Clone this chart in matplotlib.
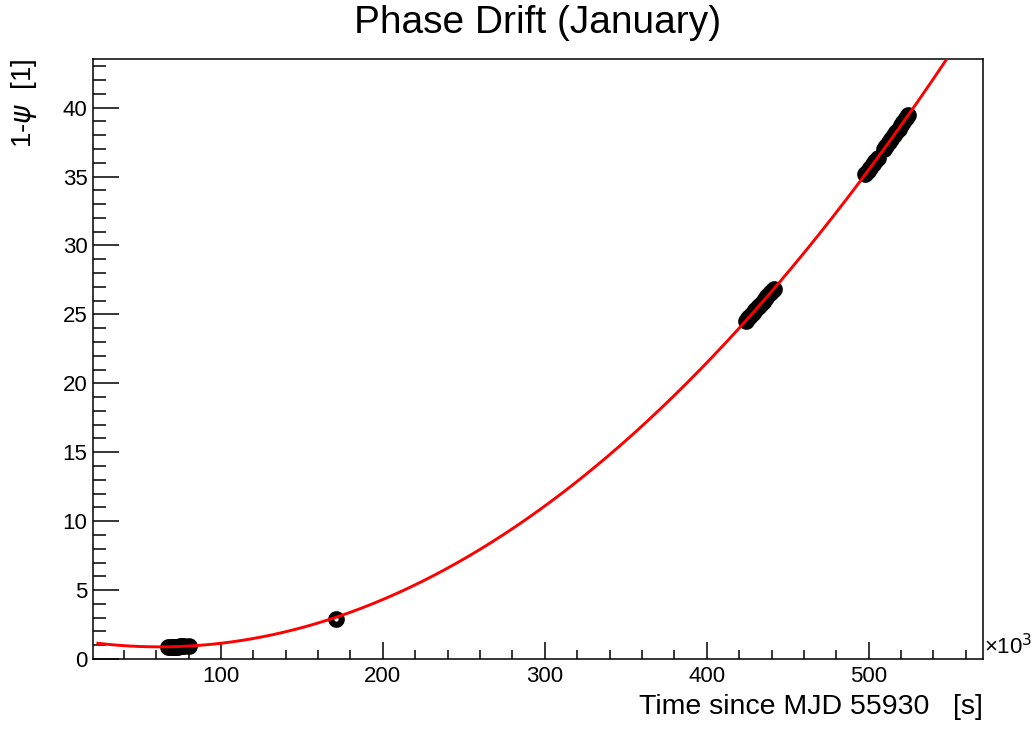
import numpy as np
import matplotlib
matplotlib.use("Agg")
from matplotlib import pyplot as plt
from matplotlib.ticker import MultipleLocator

plt.rcParams['font.family'] = ['Liberation Sans', 'DejaVu Sans']
plt.rcParams['mathtext.fontset'] = 'dejavusans'

# measured phase drift, time in units of 10^3 s
time_jan = [67.5, 68.5, 69.5, 70.5, 71.5, 72.5, 73.5, 74.5, 76.0, 77.0, 80.5,
            171.0,
            424.0, 425.5, 427.0, 428.5, 430.0, 431.5, 433.0, 434.5, 436.0,
            437.5, 439.0, 440.5, 441.5,
            498.0, 499.5, 501.0, 502.5, 504.0, 505.5,
            509.5, 511.0, 512.5, 514.0, 515.5, 517.0, 518.5, 520.0, 521.5,
            523.0, 524.5]
drift_jan = [0.89, 0.89, 0.89, 0.89, 0.90, 0.90, 0.90, 0.91, 0.91, 0.92, 0.93,
             2.92,
             24.52, 24.71, 24.91, 25.11, 25.31, 25.51, 25.71, 25.91, 26.11,
             26.31, 26.52, 26.72, 26.86,
             35.17, 35.41, 35.65, 35.89, 36.12, 36.36,
             37.01, 37.25, 37.49, 37.74, 37.98, 38.23, 38.47, 38.72, 38.96,
             39.22, 39.47]

# pol2 fit: p0 + p1*t + p2*t^2
fit_params = [1.574, -0.02237, 1.804e-4]
fit_range = (24.0, 570.0)

x_range = (21.0, 570.6)
y_range = (0.0, 43.53)


def main():
  fig = plt.figure(figsize=(10.35, 7.29), dpi=100)
  ax = fig.add_axes([93/1035, 1 - 659/729, 890/1035, 600/729])

  ax.plot(time_jan, drift_jan, linestyle='none', marker='o', markersize=7.6,
          markerfacecolor='none', markeredgecolor='black', markeredgewidth=4.4,
          zorder=2)

  tt = np.linspace(fit_range[0], fit_range[1], 600)
  ax.plot(tt, np.polyval(fit_params[::-1], tt), color='red', lw=2.1, zorder=3)

  ax.set_xlim(*x_range)
  ax.set_ylim(*y_range)

  ax.xaxis.set_major_locator(MultipleLocator(100))
  ax.xaxis.set_minor_locator(MultipleLocator(20))
  ax.yaxis.set_major_locator(MultipleLocator(5))
  ax.yaxis.set_minor_locator(MultipleLocator(1))
  ax.tick_params(axis='both', which='both', direction='in', width=1.1,
                 labelsize=16, top=False, right=False)
  ax.tick_params(axis='x', which='major', length=12.5, pad=5)
  ax.tick_params(axis='x', which='minor', length=6.5)
  ax.tick_params(axis='y', which='major', length=19, pad=4)
  ax.tick_params(axis='y', which='minor', length=9.5)
  for s in ax.spines.values():
    s.set_linewidth(1.1)

  ax.set_title("Phase Drift (January)", fontsize=28, pad=19)
  ax.set_xlabel("Time since MJD 55930   [s]", fontsize=20.5, loc='right',
                labelpad=5)
  ax.set_ylabel(r"1-$\psi$  [1]", fontsize=20, loc='top', labelpad=17)

  # axis multiplier, ROOT style
  ax.text(1.001, 0.0, "×10$^{3}$", transform=ax.transAxes,
          fontsize=16, ha='left', va='bottom')

  fig.savefig("out.png", dpi=100)


if __name__ == "__main__":
  main()
